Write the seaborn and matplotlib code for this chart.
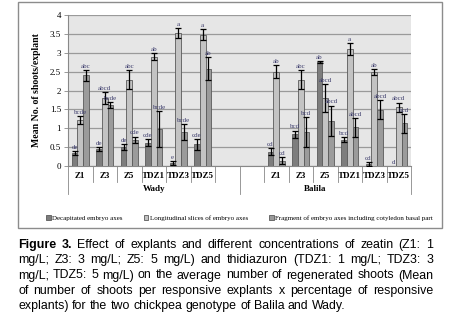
import numpy as np
import pandas as pd
import seaborn as sns
import matplotlib.pyplot as plt
from matplotlib.patches import Rectangle

# Данные
concentrations = ['Z1', 'Z3', 'Z5', 'TDZ1', 'TDZ3', 'TDZ5']
genotypes = ['Wady', 'Balila']
explants = ['Decapitated embryo axes',
            'Longitudinal slices of embryo axes',
            'Fragment of embryo axes including cotyledon basal part']

wady_decap = [0.35, 0.45, 0.50, 0.62, 0.07, 0.57]
wady_long = [1.22, 1.80, 2.28, 2.90, 3.53, 3.48]
wady_frag = [2.40, 1.62, 0.70, 0.98, 0.90, 2.58]
wady_decap_err = [0.05, 0.05, 0.08, 0.10, 0.05, 0.15]
wady_long_err = [0.10, 0.17, 0.25, 0.10, 0.13, 0.15]
wady_frag_err = [0.15, 0.08, 0.08, 0.47, 0.20, 0.30]
wady_decap_let = ['de', 'de', 'de', 'cde', 'e', 'cde']
wady_long_let = ['bcde', 'abcd', 'abc', 'ab', 'a', 'a']
wady_frag_let = ['abc', 'bcde', 'cde', 'bcde', 'bcde', 'ab']

balila_decap = [0.38, 0.84, 2.76, 0.70, 0.05, 0.0]
balila_long = [2.50, 2.28, 1.80, 3.10, 2.49, 1.56]
balila_frag = [0.14, 0.90, 1.20, 1.03, 1.49, 1.13]
balila_decap_err = [0.10, 0.10, 0.02, 0.07, 0.05, 0.0]
balila_long_err = [0.17, 0.25, 0.38, 0.15, 0.07, 0.12]
balila_frag_err = [0.10, 0.40, 0.40, 0.25, 0.25, 0.25]
balila_decap_let = ['cd', 'bcd', 'ab', 'bcd', 'cd', 'd']
balila_long_let = ['ab', 'abc', 'abcd', 'a', 'ab', 'abcd']
balila_frag_let = ['cd', 'bcd', 'abcd', 'abcd', 'abcd', 'bcd']

colors = ['#7d7d7d', '#c3c3c3', '#9b9b9b']

# Порядок столбцов по оси X (с пустыми позициями между генотипами)
order = ['Wady ' + c for c in concentrations] + [' ', '  '] + ['Balila ' + c for c in concentrations]
tick_names = concentrations + ['', ''] + concentrations

rows = []
series = {
    'Wady': [(wady_decap, wady_decap_err, wady_decap_let),
             (wady_long, wady_long_err, wady_long_let),
             (wady_frag, wady_frag_err, wady_frag_let)],
    'Balila': [(balila_decap, balila_decap_err, balila_decap_let),
               (balila_long, balila_long_err, balila_long_let),
               (balila_frag, balila_frag_err, balila_frag_let)],
}
for g in genotypes:
    for k, (vals, errs, lets) in enumerate(series[g]):
        for i, c in enumerate(concentrations):
            rows.append({'slot': g + ' ' + c, 'explant': explants[k],
                         'value': vals[i], 'err': errs[i], 'letter': lets[i]})
df = pd.DataFrame(rows)

plt.rcParams['font.family'] = ['Liberation Serif', 'DejaVu Serif']

fig = plt.figure(figsize=(4.61, 3.31), dpi=100)
W, H = 461, 331
ax = fig.add_axes([68 / W, 1 - 166 / H, (411 - 68) / W, (166 - 15) / H])
ax.set_facecolor('#e6e6e6')

sns.barplot(data=df, x='slot', y='value', hue='explant', order=order,
            hue_order=explants, palette=colors, errorbar=None, width=0.7,
            edgecolor='#5a5a5a', linewidth=0.6, ax=ax, zorder=3)

handles = ax.get_legend_handles_labels()[0][:3]
bar_containers = list(ax.containers)[:3]

# Планки погрешностей и буквенные обозначения
for k, cont in enumerate(bar_containers):
    for bar in cont:
        if bar is None or not hasattr(bar, 'get_x'):
            continue
        xc = bar.get_x() + bar.get_width() / 2
        slot = order[int(round(xc))]
        r = df[(df['slot'] == slot) & (df['explant'] == explants[k])]
        if r.empty:
            continue
        v, e, let = r['value'].iloc[0], r['err'].iloc[0], r['letter'].iloc[0]
        if e > 0:
            ax.errorbar(xc, v, yerr=e, fmt='none', ecolor='black',
                        elinewidth=0.9, capsize=2.2, capthick=0.9, zorder=4)
        ax.text(xc, v + e + 0.03, let, ha='center', va='bottom',
                fontsize=5, color='#3b3b6b', zorder=5)

ax.set_ylim(0, 4)
ax.set_xlim(-0.5, 13.5)
ax.set_yticks(np.arange(0, 4.01, 0.5))
ax.set_yticklabels(['0', '0.5', '1', '1.5', '2', '2.5', '3', '3.5', '4'])
ax.yaxis.grid(True, color='#9a9a9a', linewidth=0.9, zorder=0)
ax.set_axisbelow(True)
ax.tick_params(axis='y', labelsize=6.5, length=3, width=0.6, color='#888888', pad=2)
ax.set_xticks(range(len(order)))
ax.set_xticklabels(tick_names, fontsize=6.5, fontweight='bold')
ax.tick_params(axis='x', length=0, pad=4)
for s in ['top', 'right']:
    ax.spines[s].set_visible(False)
ax.spines['left'].set_color('#888888')
ax.spines['bottom'].set_color('#888888')
ax.set_xlabel('')
ax.set_ylabel('Mean No. of shoots/explant', fontsize=7, fontweight='bold', labelpad=6)

# Разделители категорий и групп под осью
tr = ax.get_xaxis_transform()
for b in np.arange(-0.5, 14, 1):
    depth = -0.185 if b in (-0.5, 6.5, 13.5) else -0.106
    ax.plot([b, b], [0, depth], color='#888888', lw=0.6, transform=tr, clip_on=False)
ax.text(3.0, -0.152, 'Wady', transform=tr, ha='center', va='center', fontsize=6.5, fontweight='bold')
ax.text(9.6, -0.152, 'Balila', transform=tr, ha='center', va='center', fontsize=6.5, fontweight='bold')

ax.legend(handles, explants, ncol=3, frameon=False, fontsize=5,
          loc='center left', bbox_to_anchor=(46 / W, 1 - 218 / H),
          bbox_transform=fig.transFigure, borderpad=0, borderaxespad=0,
          handlelength=0.7, handleheight=0.7, handletextpad=0.2, columnspacing=3.0)

# Рамка вокруг графика
fig.patches.append(Rectangle((18 / W, 1 - 228 / H), (442 - 18) / W, (228 - 2) / H,
                             transform=fig.transFigure, fill=False,
                             edgecolor='#8c8c8c', lw=1))

# Подпись к рисунку (выравнивание по ширине)
caption = [
    'Figure 3. Effect of explants and different concentrations of zeatin (Z1: 1',
    'mg/L; Z3: 3 mg/L; Z5: 5 mg/L) and thidiazuron (TDZ1: 1 mg/L; TDZ3: 3',
    'mg/L; TDZ5: 5 mg/L) on the average number of regenerated shoots (Mean',
    'of number of shoots per responsive explants x percentage of responsive',
    'explants) for the two chickpea genotype of Balila and Wady.',
]
renderer = fig.canvas.get_renderer()
x0, x1 = 18, 433
for li, line in enumerate(caption):
    y = 1 - (248 + li * 15.25) / H
    words = line.split(' ')
    texts = []
    for wi, w in enumerate(words):
        bold = li == 0 and wi < 2
        texts.append(fig.text(0, y, w, fontsize=8.9, va='baseline',
                              family=['Liberation Sans', 'DejaVu Sans'],
                              fontweight='bold' if bold else 'normal'))
    widths = [t.get_window_extent(renderer).width for t in texts]
    if li < len(caption) - 1:
        gap = (x1 - x0 - sum(widths)) / (len(words) - 1)
    else:
        gap = 3.4
    x = x0
    for t, w in zip(texts, widths):
        t.set_x(x / W)
        x += w + gap

fig.savefig('out.png', dpi=100)
